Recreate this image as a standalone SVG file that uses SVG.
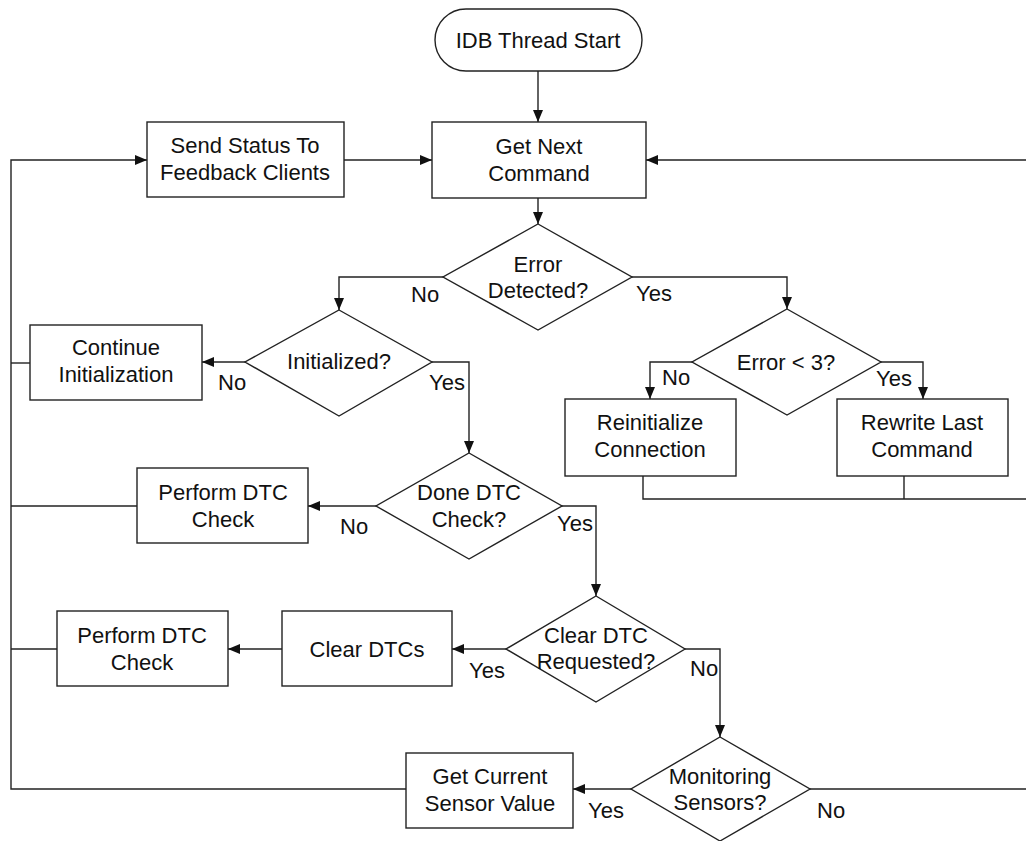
<svg xmlns="http://www.w3.org/2000/svg" width="1026" height="841" viewBox="0 0 1026 841">
<defs>
<marker id="arr" markerUnits="userSpaceOnUse" markerWidth="12" markerHeight="10" refX="12" refY="5" orient="auto">
<path d="M0,0 L12,5 L0,10 z" fill="#111"/>
</marker>
</defs>
<style>
.shape{fill:#fff;stroke:#222;stroke-width:1.4}
.c{fill:none;stroke:#222;stroke-width:1.4}
.a{marker-end:url(#arr)}
text{font-family:"Liberation Sans",Arial,sans-serif;font-size:22px;fill:#111}
.m{text-anchor:middle}
</style>
<rect width="1026" height="841" fill="#fff"/>
<g id="connectors">
<path class="c a" d="M538,71 V122"/>
<path class="c a" d="M406,789 H11 V160 H147"/>
<path class="c a" d="M344,160 H432"/>
<path class="c a" d="M810,789 H1030 V160 H646"/>
<path class="c" d="M643,476 V499 H1030"/>
<path class="c" d="M904,476 V499"/>
<path class="c a" d="M538,198 V224"/>
<path class="c a" d="M443,277 H339 V310"/>
<path class="c a" d="M632,277 H787 V309"/>
<path class="c a" d="M692,362 H650 V399"/>
<path class="c a" d="M881,362 H923 V399"/>
<path class="c a" d="M245,362 H202"/>
<path class="c" d="M30,363 H11"/>
<path class="c a" d="M432,362 H469 V453"/>
<path class="c a" d="M376,506 H308"/>
<path class="c" d="M137,506 H11"/>
<path class="c a" d="M562,506 H596 V596"/>
<path class="c a" d="M506,649 H452"/>
<path class="c a" d="M282,649 H228"/>
<path class="c" d="M57,649 H11"/>
<path class="c a" d="M685,649 H720 V737"/>
<path class="c a" d="M631,789 H573"/>
<text x="411" y="302">No</text>
<text x="636" y="301">Yes</text>
<text x="218" y="390">No</text>
<text x="429" y="390">Yes</text>
<text x="662" y="385">No</text>
<text x="876" y="386">Yes</text>
<text x="340" y="534">No</text>
<text x="557" y="531">Yes</text>
<text x="469" y="678">Yes</text>
<text x="690" y="676">No</text>
<text x="588" y="818">Yes</text>
<text x="817" y="818">No</text>
</g>
<g id="start">
<rect class="shape" x="435" y="9" width="207" height="62" rx="31" ry="31"/>
<text class="m" x="538" y="48">IDB Thread Start</text>
</g>
<g id="sendStatus">
<rect class="shape" x="147" y="122" width="197" height="75"/>
<text class="m" x="245" y="153">Send Status To</text>
<text class="m" x="245" y="180">Feedback Clients</text>
</g>
<g id="getNext">
<rect class="shape" x="432" y="122" width="214" height="76"/>
<text class="m" x="539" y="154">Get Next</text>
<text class="m" x="539" y="181">Command</text>
</g>
<g id="errorDetected">
<polygon class="shape" points="538,224 632,277 538,330 443,277"/>
<text class="m" x="538" y="272">Error</text>
<text class="m" x="538" y="298">Detected?</text>
</g>
<g id="initialized">
<polygon class="shape" points="339,310 432,362 339,416 245,362"/>
<text class="m" x="339" y="369">Initialized?</text>
</g>
<g id="continueInit">
<rect class="shape" x="30" y="325" width="172" height="75"/>
<text class="m" x="116" y="355">Continue</text>
<text class="m" x="116" y="382">Initialization</text>
</g>
<g id="errorLt3">
<polygon class="shape" points="787,309 881,362 787,415 692,362"/>
<text class="m" x="786" y="370">Error &lt; 3?</text>
</g>
<g id="reinit">
<rect class="shape" x="565" y="399" width="171" height="77"/>
<text class="m" x="650" y="430">Reinitialize</text>
<text class="m" x="650" y="457">Connection</text>
</g>
<g id="rewrite">
<rect class="shape" x="837" y="399" width="171" height="77"/>
<text class="m" x="922" y="430">Rewrite Last</text>
<text class="m" x="922" y="457">Command</text>
</g>
<g id="doneDTC">
<polygon class="shape" points="469,453 562,506 469,559 376,506"/>
<text class="m" x="469" y="500">Done DTC</text>
<text class="m" x="469" y="527">Check?</text>
</g>
<g id="performDTC1">
<rect class="shape" x="137" y="468" width="171" height="75"/>
<text class="m" x="223" y="500">Perform DTC</text>
<text class="m" x="223" y="527">Check</text>
</g>
<g id="clearDTCReq">
<polygon class="shape" points="596,596 685,649 596,702 506,649"/>
<text class="m" x="596" y="643">Clear DTC</text>
<text class="m" x="596" y="669">Requested?</text>
</g>
<g id="clearDTCs">
<rect class="shape" x="282" y="611" width="170" height="75"/>
<text class="m" x="367" y="657">Clear DTCs</text>
</g>
<g id="performDTC2">
<rect class="shape" x="57" y="611" width="171" height="75"/>
<text class="m" x="142" y="643">Perform DTC</text>
<text class="m" x="142" y="670">Check</text>
</g>
<g id="monitoring">
<polygon class="shape" points="720,737 810,789 720,841 631,789"/>
<text class="m" x="720" y="784">Monitoring</text>
<text class="m" x="720" y="810">Sensors?</text>
</g>
<g id="getCurrent">
<rect class="shape" x="406" y="753" width="167" height="75"/>
<text class="m" x="490" y="784">Get Current</text>
<text class="m" x="490" y="811">Sensor Value</text>
</g>
</svg>
